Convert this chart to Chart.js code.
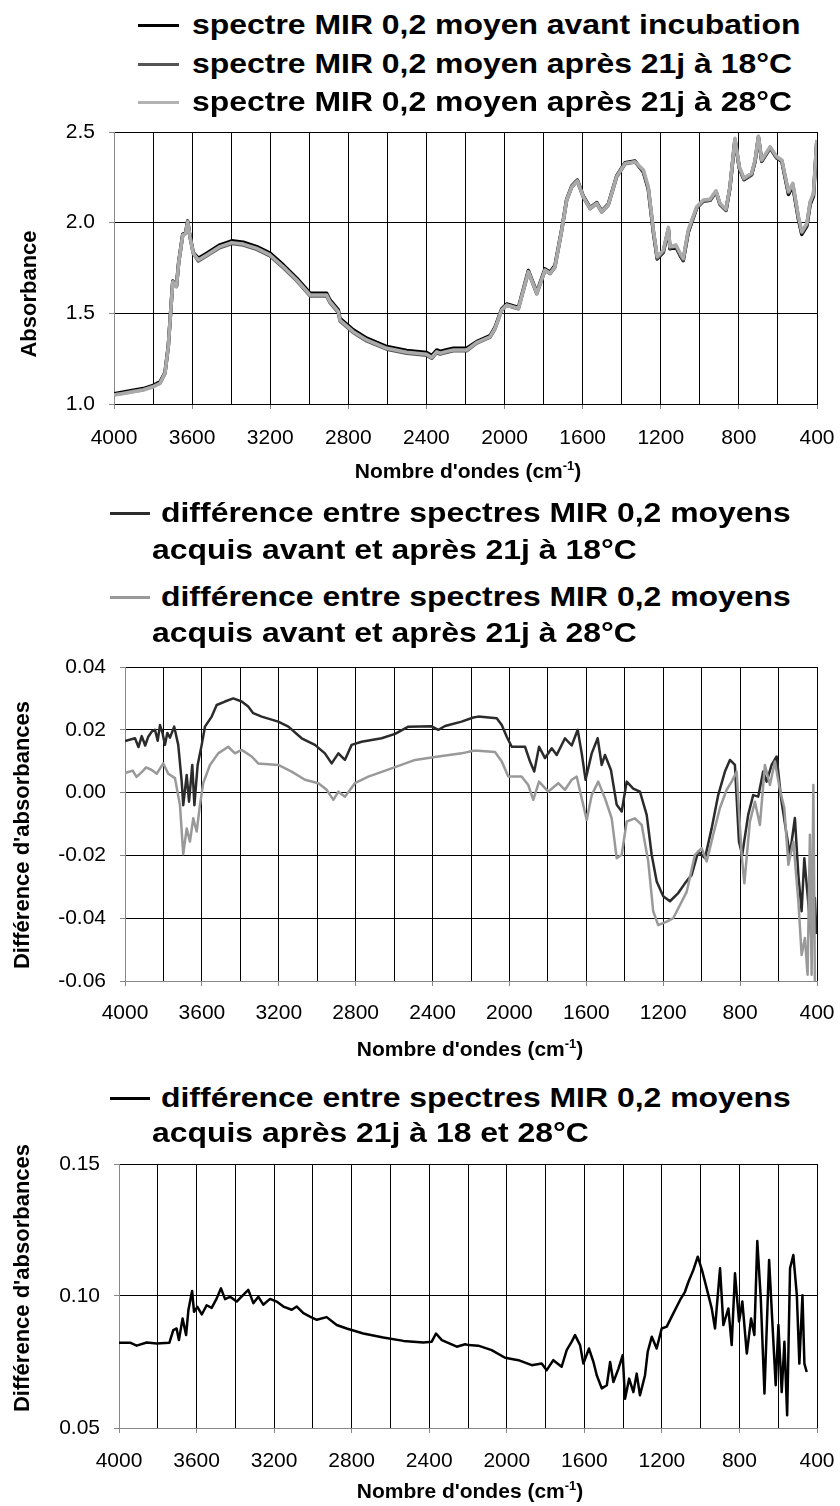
<!DOCTYPE html>
<html>
<head>
<meta charset="utf-8">
<script src="https://cdn.jsdelivr.net/npm/chart.js@4/dist/chart.umd.min.js"></script>
<style>
  body { margin: 0; width: 840px; height: 1506px; background: #fff; position: relative; overflow: hidden;
         font-family: "Liberation Sans", Arial, sans-serif; }
  canvas { position: absolute; left: 0; }
  .leg { position: absolute; font-weight: bold; font-size: 28px; line-height: 28px; white-space: nowrap; color: #000;
         transform-origin: left center; transform: scaleX(1.14); }
  .swatch { position: absolute; height: 3px; }
</style>
</head>
<body>
<canvas id="c1" width="840" height="390" style="top:110px"></canvas>
<canvas id="c2" width="840" height="425" style="top:645px"></canvas>
<canvas id="c3" width="840" height="376" style="top:1130px"></canvas>
<script>
// ---- spectra: mean MIR 0,2 spectra (absorbance) ----
const wn1 = [4000, 3950, 3901, 3850, 3799, 3764, 3739, 3722, 3708, 3699, 3680, 3669, 3648, 3633, 3623, 3611, 3594,
  3568, 3525, 3457, 3397, 3338, 3269, 3201, 3133, 3064, 2996, 2911, 2894, 2851, 2843, 2775, 2706, 2603, 2501, 2399,
  2373, 2347, 2330, 2296, 2262, 2194, 2143, 2074, 2049, 2015, 1989, 1929, 1878, 1835, 1793, 1767, 1742, 1707, 1682,
  1656, 1627, 1597, 1562, 1528, 1503, 1469, 1426, 1383, 1332, 1289, 1264, 1238, 1218, 1187, 1161, 1153, 1122, 1101,
  1085, 1059, 1016, 982, 948, 917, 897, 866, 846, 820, 798, 774, 735, 717, 700, 683, 640, 606, 580, 546, 524, 495,
  478, 452, 435, 418, 401];
const avant = [1.057, 1.066, 1.076, 1.085, 1.103, 1.122, 1.173, 1.320, 1.540, 1.678, 1.651, 1.780, 1.936, 1.944, 2.009,
  1.927, 1.835, 1.804, 1.832, 1.878, 1.900, 1.892, 1.868, 1.832, 1.767, 1.694, 1.611, 1.611, 1.574, 1.519, 1.473,
  1.409, 1.363, 1.317, 1.295, 1.284, 1.267, 1.298, 1.290, 1.300, 1.308, 1.308, 1.344, 1.377, 1.423, 1.524, 1.552,
  1.533, 1.736, 1.616, 1.745, 1.727, 1.763, 1.964, 2.129, 2.202, 2.235, 2.147, 2.083, 2.111, 2.065, 2.102, 2.258,
  2.331, 2.340, 2.278, 2.186, 1.948, 1.800, 1.837, 1.962, 1.856, 1.865, 1.819, 1.791, 1.948, 2.082, 2.119, 2.123,
  2.170, 2.101, 2.068, 2.192, 2.457, 2.301, 2.237, 2.264, 2.338, 2.470, 2.338, 2.411, 2.356, 2.338, 2.156, 2.202,
  2.018, 1.935, 1.981, 2.101, 2.147, 2.441];
const apres18 = [1.051, 1.060, 1.070, 1.079, 1.097, 1.116, 1.169, 1.316, 1.536, 1.674, 1.647, 1.776, 1.932, 1.940,
  2.005, 1.923, 1.831, 1.789, 1.817, 1.863, 1.885, 1.877, 1.853, 1.817, 1.752, 1.679, 1.596, 1.596, 1.559, 1.504,
  1.458, 1.394, 1.348, 1.302, 1.280, 1.269, 1.252, 1.283, 1.275, 1.285, 1.293, 1.293, 1.336, 1.369, 1.415, 1.516,
  1.544, 1.525, 1.728, 1.608, 1.737, 1.719, 1.755, 1.958, 2.123, 2.196, 2.229, 2.141, 2.077, 2.105, 2.059, 2.096,
  2.252, 2.325, 2.334, 2.282, 2.190, 1.952, 1.804, 1.841, 1.966, 1.860, 1.869, 1.823, 1.795, 1.952, 2.082, 2.119,
  2.123, 2.170, 2.101, 2.068, 2.192, 2.459, 2.303, 2.239, 2.266, 2.340, 2.472, 2.340, 2.413, 2.358, 2.340, 2.165,
  2.211, 2.027, 1.944, 1.990, 2.110, 2.156, 2.450];
const apres28 = [1.049, 1.058, 1.068, 1.077, 1.095, 1.114, 1.169, 1.316, 1.536, 1.674, 1.647, 1.776, 1.932, 1.940,
  2.005, 1.923, 1.831, 1.794, 1.822, 1.868, 1.890, 1.882, 1.858, 1.822, 1.757, 1.684, 1.601, 1.601, 1.564, 1.509,
  1.463, 1.399, 1.353, 1.307, 1.285, 1.274, 1.257, 1.288, 1.280, 1.290, 1.298, 1.298, 1.338, 1.371, 1.417, 1.518,
  1.546, 1.527, 1.730, 1.610, 1.739, 1.721, 1.757, 1.960, 2.125, 2.198, 2.231, 2.143, 2.079, 2.107, 2.061, 2.098,
  2.254, 2.327, 2.336, 2.290, 2.198, 1.960, 1.812, 1.849, 1.974, 1.868, 1.877, 1.831, 1.803, 1.960, 2.088, 2.125,
  2.129, 2.176, 2.107, 2.074, 2.198, 2.465, 2.309, 2.245, 2.272, 2.346, 2.478, 2.346, 2.419, 2.364, 2.346, 2.171,
  2.217, 2.033, 1.950, 1.996, 2.116, 2.162, 2.456];

// ---- differences before / after 21 days ----
const wnDiff18 = [4000, 3948, 3930, 3913, 3895, 3879, 3860, 3844, 3830, 3818, 3805, 3792, 3780, 3766, 3744, 3723, 3705,
  3697, 3679, 3667, 3650, 3639, 3622, 3601, 3584, 3549, 3523, 3480, 3437, 3393, 3359, 3333, 3289, 3203, 3150, 3081,
  3012, 2960, 2925, 2890, 2856, 2821, 2769, 2665, 2595, 2526, 2405, 2370, 2335, 2249, 2188, 2162, 2066, 2040, 2014,
  1988, 1919, 1893, 1871, 1846, 1815, 1780, 1754, 1711, 1676, 1645, 1624, 1604, 1572, 1541, 1520, 1503, 1472, 1442,
  1416, 1390, 1356, 1321, 1286, 1260, 1234, 1200, 1165, 1122, 1087, 1052, 1018, 983, 948, 914, 879, 853, 827, 806,
  789, 758, 732, 706, 680, 662, 636, 610, 587, 558, 541, 515, 497, 480, 466, 446, 428, 411, 403];
const diff18 = [0.0164, 0.0173, 0.0145, 0.0180, 0.0150, 0.0178, 0.0195, 0.0200, 0.0165, 0.0215, 0.0190, 0.0152,
  0.0190, 0.0175, 0.0210, 0.0152, 0.0035, -0.0040, 0.0056, -0.0029, 0.0088, -0.0040, 0.0088, 0.0152, 0.0210, 0.0242,
  0.0279, 0.0290, 0.0300, 0.0290, 0.0274, 0.0253, 0.0242, 0.0226, 0.0210, 0.0173, 0.0152, 0.0125, 0.0093, 0.0125,
  0.0104, 0.0152, 0.0162, 0.0173, 0.0187, 0.0210, 0.0211, 0.0200, 0.0212, 0.0226, 0.0239, 0.0242, 0.0237, 0.0215,
  0.0178, 0.0146, 0.0146, 0.0099, 0.0067, 0.0146, 0.0110, 0.0141, 0.0120, 0.0173, 0.0150, 0.0200, 0.0125, 0.0041,
  0.0125, 0.0173, 0.0088, 0.0120, 0.0072, -0.0039, -0.0060, 0.0035, 0.0013, 0.0003, -0.0071, -0.0198, -0.0283,
  -0.0330, -0.0346, -0.0320, -0.0289, -0.0262, -0.0188, -0.0209, -0.0114, -0.0008, 0.0067, 0.0104, 0.0088, -0.0156,
  -0.0198, -0.0071, -0.0008, -0.0013, 0.0067, 0.0035, 0.0088, 0.0115, -0.0018, -0.0134, -0.0198, -0.0081, -0.0262,
  -0.0378, -0.0209, -0.0346, -0.0474, -0.0336, -0.0450];
const wnDiff28 = [4000, 3960, 3940, 3913, 3890, 3861, 3835, 3801, 3775, 3740, 3714, 3697, 3679, 3662, 3645, 3627, 3610,
  3593, 3558, 3515, 3463, 3428, 3393, 3341, 3307, 3203, 3133, 3064, 2994, 2951, 2916, 2890, 2856, 2804, 2734, 2613,
  2491, 2370, 2249, 2188, 2162, 2075, 2040, 2006, 1937, 1902, 1876, 1846, 1798, 1746, 1711, 1676, 1650, 1628, 1598,
  1572, 1538, 1503, 1468, 1442, 1416, 1390, 1347, 1312, 1278, 1252, 1226, 1182, 1148, 1113, 1078, 1035, 1000, 974,
  940, 905, 870, 844, 818, 792, 778, 749, 723, 697, 671, 645, 619, 593, 570, 549, 523, 497, 480, 463, 449, 437, 428,
  419, 411];
const diff28 = [0.0062, 0.0070, 0.0050, 0.0065, 0.0080, 0.0072, 0.0060, 0.0093, 0.0060, 0.0046, -0.0040, -0.0196,
  -0.0114, -0.0156, -0.0082, -0.0124, -0.0039, 0.0030, 0.0088, 0.0125, 0.0146, 0.0125, 0.0136, 0.0115, 0.0093,
  0.0088, 0.0067, 0.0041, 0.0030, 0.0009, -0.0023, 0.0003, -0.0013, 0.0030, 0.0051, 0.0077, 0.0104, 0.0115, 0.0125,
  0.0133, 0.0133, 0.0129, 0.0099, 0.0051, 0.0051, 0.0024, -0.0023, 0.0035, 0.0003, 0.0030, 0.0009, 0.0041, 0.0051,
  -0.0008, -0.0087, -0.0008, 0.0035, -0.0018, -0.0082, -0.0209, -0.0198, -0.0092, -0.0082, -0.0103, -0.0219, -0.0378,
  -0.0422, -0.0411, -0.0400, -0.0358, -0.0316, -0.0198, -0.0177, -0.0219, -0.0134, -0.0049, 0.0009, 0.0035, 0.0067,
  -0.0198, -0.0289, -0.0092, -0.0029, -0.0103, 0.0088, 0.0024, 0.0099, 0.0009, -0.0049, -0.0230, -0.0156, -0.0346,
  -0.0517, -0.0463, -0.0580, -0.0134, -0.0580, 0.0024, -0.0600];

// ---- difference between 18 and 28 °C ----
const wnDiffT = [4000, 3943, 3909, 3857, 3806, 3740, 3720, 3703, 3691, 3672, 3654, 3642, 3623, 3613, 3596, 3573, 3548,
  3522, 3496, 3474, 3453, 3427, 3393, 3359, 3333, 3307, 3281, 3256, 3221, 3187, 3152, 3109, 3083, 3049, 3015, 2980,
  2929, 2877, 2826, 2740, 2637, 2533, 2430, 2387, 2365, 2335, 2258, 2215, 2198, 2147, 2078, 2009, 1940, 1871, 1820,
  1794, 1760, 1717, 1691, 1665, 1648, 1622, 1605, 1576, 1553, 1536, 1510, 1484, 1467, 1450, 1424, 1402, 1390, 1369,
  1347, 1330, 1313, 1287, 1273, 1252, 1227, 1201, 1175, 1141, 1106, 1081, 1063, 1038, 1015, 991, 969, 943, 926, 900,
  883, 857, 840, 823, 802, 785, 762, 740, 723, 708, 690, 671, 647, 625, 613, 599, 582, 568, 554, 539, 522, 504, 491,
  475, 465, 453];
const diffT = [0.0823, 0.0823, 0.0812, 0.0824, 0.0820, 0.0823, 0.0871, 0.0877, 0.0833, 0.0915, 0.0852, 0.0947, 0.1019,
  0.0940, 0.0959, 0.0930, 0.0965, 0.0955, 0.0991, 0.1029, 0.0988, 0.0997, 0.0979, 0.1004, 0.1023, 0.0973, 0.0997,
  0.0967, 0.0989, 0.0979, 0.0960, 0.0948, 0.0960, 0.0935, 0.0922, 0.0910, 0.0920, 0.0890, 0.0877, 0.0858, 0.0843,
  0.0830, 0.0824, 0.0827, 0.0858, 0.0833, 0.0808, 0.0817, 0.0814, 0.0812, 0.0795, 0.0766, 0.0757, 0.0738, 0.0744,
  0.0719, 0.0757, 0.0732, 0.0795, 0.0827, 0.0852, 0.0814, 0.0744, 0.0801, 0.0750, 0.0700, 0.0650, 0.0662, 0.0750,
  0.0674, 0.0725, 0.0776, 0.0611, 0.0687, 0.0636, 0.0706, 0.0624, 0.0700, 0.0789, 0.0846, 0.0801, 0.0877, 0.0884,
  0.0934, 0.0985, 0.1016, 0.1054, 0.1098, 0.1149, 0.1092, 0.1029, 0.0953, 0.0877, 0.1105, 0.0890, 0.0953, 0.0814,
  0.1086, 0.0903, 0.0979, 0.0782, 0.0915, 0.0852, 0.1208, 0.0991, 0.0631, 0.1136, 0.0827, 0.0662, 0.0890, 0.0636,
  0.0827, 0.0548, 0.1105, 0.1155, 0.1003, 0.0744, 0.1003, 0.0744, 0.0712];

// legend texts
const legend1 = ['spectre MIR 0,2 moyen avant incubation',
  'spectre MIR 0,2 moyen après 21j à 18°C',
  'spectre MIR 0,2 moyen après 21j à 28°C'];
const legend2 = [['différence entre spectres MIR 0,2 moyens', 'acquis avant et après 21j à 18°C'],
  ['différence entre spectres MIR 0,2 moyens', 'acquis avant et après 21j à 28°C']];
const legend3 = [['différence entre spectres MIR 0,2 moyens', 'acquis après 21j à 18 et 28°C']];

const FONT = '"Liberation Sans", Arial, sans-serif';
const xy = (xs, ys) => xs.map((x, i) => ({ x: x, y: ys[i] }));

// axis titles drawn by hand so the wavenumber unit can carry a superscript
const axisTitles = {
  id: 'axisTitles',
  afterDraw(chart, args, o) {
    const ctx = chart.ctx;
    ctx.save();
    ctx.fillStyle = '#000';
    ctx.font = 'bold 22px ' + FONT;
    ctx.textAlign = 'center';
    ctx.textBaseline = 'middle';
    ctx.translate(o.yX, o.yY);
    ctx.rotate(-Math.PI / 2);
    ctx.fillText(o.yText, 0, 0);
    ctx.restore();

    ctx.save();
    ctx.fillStyle = '#000';
    ctx.textAlign = 'left';
    ctx.textBaseline = 'alphabetic';
    const main = "Nombre d'ondes (cm", sup = '-1', tail = ')';
    ctx.font = 'bold 21px ' + FONT;
    const wMain = ctx.measureText(main).width, wTail = ctx.measureText(tail).width;
    ctx.font = 'bold 13px ' + FONT;
    const wSup = ctx.measureText(sup).width;
    let x = o.xX - (wMain + wSup + wTail) / 2;
    const base = o.xY + 7.5;
    ctx.font = 'bold 21px ' + FONT;
    ctx.fillText(main, x, base);
    x += wMain;
    ctx.font = 'bold 13px ' + FONT;
    ctx.fillText(sup, x, base - 8);
    x += wSup;
    ctx.font = 'bold 21px ' + FONT;
    ctx.fillText(tail, x, base);
    ctx.restore();
  }
};

function options(cfg) {
  return {
    responsive: false,
    animation: false,
    layout: { padding: { top: cfg.padTop, right: 23, left: 0, bottom: 0 } },
    elements: { point: { radius: 0 }, line: { tension: 0, borderJoinStyle: 'round' } },
    plugins: {
      legend: { display: false },
      tooltip: { enabled: false },
      axisTitles: cfg.titles
    },
    scales: {
      x: {
        type: 'linear',
        min: 400,
        max: 4000,
        reverse: true,
        // fixed axis band; label overflow must not shrink the plot area
        afterFit: s => { s.height = cfg.xHeight; s.paddingLeft = 0; s.paddingRight = 0; },
        border: { color: cfg.xBorder, width: 1 },
        grid: {
          color: '#000',
          lineWidth: 1,
          tickLength: 5,
          tickColor: c => (c.tick && c.tick.value % 400 === 0) ? '#888' : 'rgba(0,0,0,0)'
        },
        ticks: {
          stepSize: 200,
          autoSkip: false,
          maxRotation: 0,
          padding: cfg.xPad,
          color: '#000',
          font: { family: FONT, size: 21 },
          callback: v => (v % 400 === 0 ? String(v) : '')
        }
      },
      y: {
        min: cfg.ymin,
        max: cfg.ymax,
        afterFit: s => { s.width = cfg.yWidth; s.paddingTop = 0; s.paddingBottom = 0; },
        border: { color: '#888', width: 1 },
        grid: { color: '#000', lineWidth: 1, tickLength: 5, tickColor: '#888' },
        ticks: {
          stepSize: cfg.ystep,
          padding: 14,
          color: '#000',
          font: { family: FONT, size: 21 },
          callback: v => Number(v).toFixed(cfg.dec)
        }
      }
    }
  };
}

new Chart(document.getElementById('c1'), {
  type: 'line',
  data: {
    datasets: [
      { label: legend1[0], data: xy(wn1, avant), borderColor: '#000', borderWidth: 3.5, order: 2 },
      { label: legend1[1], data: xy(wn1, apres18), borderColor: '#555', borderWidth: 3.5, order: 1 },
      { label: legend1[2], data: xy(wn1, apres28), borderColor: '#aaa', borderWidth: 3.5, order: 0 }
    ]
  },
  options: options({ padTop: 22, xHeight: 96, yWidth: 114, xPad: 17, xBorder: '#000', ymin: 1.0, ymax: 2.5, ystep: 0.5, dec: 1,
    titles: { yText: 'Absorbance', yX: 29.5, yY: 184, xX: 468, xY: 360 } }),
  plugins: [axisTitles]
});

new Chart(document.getElementById('c2'), {
  type: 'line',
  data: {
    datasets: [
      { label: legend2[0].join(' '), data: xy(wnDiff18, diff18), borderColor: '#2b2b2b', borderWidth: 2.5, order: 1 },
      { label: legend2[1].join(' '), data: xy(wnDiff28, diff28), borderColor: '#999', borderWidth: 2.5, order: 0 }
    ]
  },
  options: options({ padTop: 22, xHeight: 89, yWidth: 125, xPad: 15, xBorder: '#888', ymin: -0.06, ymax: 0.04, ystep: 0.02, dec: 2,
    titles: { yText: "Différence d'absorbances", yX: 22.5, yY: 190, xX: 470, xY: 403 } }),
  plugins: [axisTitles]
});

new Chart(document.getElementById('c3'), {
  type: 'line',
  data: {
    datasets: [
      { label: legend3[0].join(' '), data: xy(wnDiffT, diffT), borderColor: '#000', borderWidth: 2.5 }
    ]
  },
  options: options({ padTop: 34, xHeight: 78, yWidth: 119, xPad: 16, xBorder: '#888', ymin: 0.05, ymax: 0.15, ystep: 0.05, dec: 2,
    titles: { yText: "Différence d'absorbances", yX: 23, yY: 148, xX: 470, xY: 360 } }),
  plugins: [axisTitles]
});

// HTML legends above each plot
function htmlLegend(entries, swX, swW, textX, contX, rows) {
  let r = 0;
  entries.forEach(e => {
    const sw = document.createElement('div');
    sw.className = 'swatch';
    sw.style.cssText = `left:${swX}px;width:${swW}px;top:${rows[r] - 1.5}px;background:${e.color}`;
    document.body.appendChild(sw);
    e.lines.forEach((line, j) => {
      const t = document.createElement('div');
      t.className = 'leg';
      t.textContent = line;
      t.style.left = (j === 0 ? textX : contX) + 'px';
      t.style.top = (rows[r] - 14) + 'px';
      document.body.appendChild(t);
      r++;
    });
  });
}

htmlLegend([
  { color: '#000', lines: [legend1[0]] },
  { color: '#555', lines: [legend1[1]] },
  { color: '#b3b3b3', lines: [legend1[2]] }
], 138, 41, 192, 192, [25, 64, 102]);

htmlLegend([
  { color: '#2b2b2b', lines: legend2[0] },
  { color: '#999', lines: legend2[1] }
], 110, 40, 161, 152, [513, 550, 597, 633]);

htmlLegend([
  { color: '#000', lines: legend3[0] }
], 110, 40, 161, 152, [1098, 1133]);
</script>
</body>
</html>
